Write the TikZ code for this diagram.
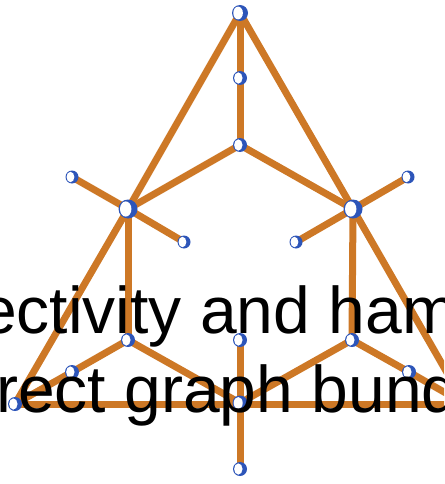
\documentclass[tikz,border=0pt]{standalone}
\usepackage{fontspec}
\setmainfont{Liberation Sans}
\definecolor{edgeor}{RGB}{205,120,38}
\definecolor{vblue}{RGB}{45,85,185}
\tikzset{
  edge/.style={draw=edgeor,line width=7pt},
  vtx/.style={circle,inner sep=0pt,minimum size=#1,fill=vblue,
    path picture={\fill[white] ([xshift=-0.12*#1]path picture bounding box.center) ellipse ({0.3*#1} and {0.4*#1});}},
  vtx/.default=13pt,
  title/.style={anchor=base west,inner sep=0pt,font=\fontsize{66}{79}\selectfont,text=black}
}
\begin{document}
\begin{tikzpicture}[x=1pt,y=-1pt]
\useasboundingbox (0,0) rectangle (444,484);
\clip (0,0) rectangle (444,484);
% vertices positions
\coordinate (T) at (240,13);
\coordinate (A) at (240,78);
\coordinate (B) at (240,145);
\coordinate (L) at (128,209);
\coordinate (R) at (353,209);
\coordinate (Lp1) at (72,177);
\coordinate (Lp2) at (184,242);
\coordinate (Rp1) at (408,177);
\coordinate (Rp2) at (296,242);
\coordinate (L2) at (128,340);
\coordinate (M) at (240,340);
\coordinate (R2) at (352,340);
\coordinate (L3) at (72,372);
\coordinate (R3) at (409,372);
\coordinate (LC) at (15,404);
\coordinate (RC) at (465,404);
\coordinate (MB) at (240,403);
\coordinate (Bot) at (240,469);
% edges
\draw[edge] (T) -- (A) -- (B);
\draw[edge] (B) -- (L);
\draw[edge] (B) -- (R);
\draw[edge] (T) -- (L) -- (LC);
\draw[edge] (T) -- (R) -- (RC);
\draw[edge] (L) -- (Lp1);
\draw[edge] (L) -- (Lp2);
\draw[edge] (R) -- (Rp1);
\draw[edge] (R) -- (Rp2);
\draw[edge] (L) -- (L2);
\draw[edge] (R) -- (R2);
\draw[edge] (L2) -- (L3) -- (LC);
\draw[edge] (L2) -- (MB);
\draw[edge] (R2) -- (MB);
\draw[edge] (R2) -- (R3) -- (RC);
\draw[edge] (M) -- (MB) -- (Bot);
\draw[edge] (LC) -- (RC);
% vertex markers
\node[vtx=16pt] (vT) at (T) {};
\node[vtx=14pt] (vA) at (A) {};
\node[vtx=14pt] (vB) at (B) {};
\node[vtx=19pt] (vL) at (L) {};
\node[vtx=19pt] (vR) at (R) {};
\node[vtx] (vLp1) at (Lp1) {};
\node[vtx] (vLp2) at (Lp2) {};
\node[vtx] (vRp1) at (Rp1) {};
\node[vtx] (vRp2) at (Rp2) {};
\node[vtx=14pt] (vL2) at (L2) {};
\node[vtx=14pt] (vM) at (M) {};
\node[vtx=14pt] (vR2) at (R2) {};
\node[vtx=14pt] (vL3) at (L3) {};
\node[vtx=14pt] (vR3) at (R3) {};
\node[vtx=14pt] (vLC) at (LC) {};
\node[vtx=15pt] (vMB) at (MB) {};
\node[vtx=14pt] (vBot) at (Bot) {};
% title text
\node[title] (t1) at (-20,333) {ectivity and ham};
\node[title] (t2) at (-4,412) {rect graph bund};
\end{tikzpicture}
\end{document}
